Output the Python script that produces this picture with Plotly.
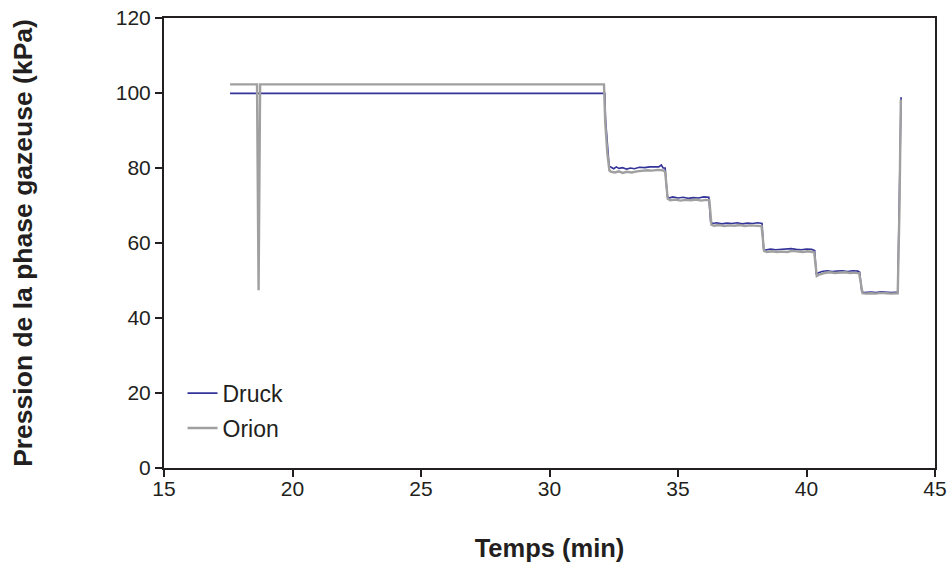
import plotly.graph_objects as go

# ── data ──────────────────────────────────────────────────────
druck_t = [17.57, 32.15, 32.18, 32.25, 32.32, 32.4, 32.5, 32.6, 32.7, 32.85,
           33.0, 33.15, 33.3, 33.5, 33.7, 33.9, 34.1, 34.25, 34.35, 34.42,
           34.5, 34.58, 34.65, 34.8, 35.0, 35.2, 35.4, 35.6, 35.8, 36.0,
           36.2, 36.27, 36.35, 36.5, 36.7, 36.9, 37.1, 37.3, 37.5, 37.7,
           37.9, 38.1, 38.27, 38.33, 38.4, 38.6, 38.8, 39.0, 39.2, 39.4,
           39.6, 39.8, 40.0, 40.2, 40.32, 40.38, 40.45, 40.6, 40.8, 41.0,
           41.2, 41.4, 41.6, 41.8, 42.0, 42.07, 42.15, 42.25, 42.5, 42.7,
           42.9, 43.1, 43.3, 43.55, 43.62, 43.68]
druck_p = [99.9, 99.9, 93.0, 86.0, 80.5, 80.2, 79.8, 80.3, 79.9, 80.1,
           79.7, 80.0, 79.8, 80.2, 80.1, 80.3, 80.4, 80.3, 80.8, 80.0,
           80.0, 72.5, 72.0, 72.3, 72.0, 72.2, 71.9, 72.1, 72.0, 72.3,
           72.2, 65.6, 65.2, 65.4, 65.1, 65.3, 65.2, 65.4, 65.1, 65.3,
           65.2, 65.4, 65.2, 58.4, 58.1, 58.4, 58.2, 58.3, 58.2, 58.5,
           58.3, 58.2, 58.4, 58.3, 58.0, 51.6, 52.0, 52.4, 52.6, 52.4,
           52.5, 52.6, 52.4, 52.6, 52.5, 52.2, 47.0, 46.8, 46.9, 46.8,
           47.0, 46.9, 46.8, 46.9, 70.0, 98.9]

orion_t = [17.57, 18.62, 18.68, 18.74, 32.12, 32.17, 32.25, 32.33, 32.4, 32.55,
           32.7, 32.85, 33.0, 33.2, 33.4, 33.6, 33.8, 34.0, 34.2, 34.4,
           34.5, 34.6, 34.7, 34.9, 35.1, 35.3, 35.5, 35.7, 35.9, 36.1,
           36.22, 36.3, 36.4, 36.6, 36.8, 37.0, 37.2, 37.4, 37.6, 37.8,
           38.0, 38.25, 38.35, 38.45, 38.65, 38.85, 39.05, 39.25, 39.45, 39.65,
           39.85, 40.05, 40.3, 40.4, 40.5, 40.7, 40.9, 41.1, 41.3, 41.5,
           41.7, 41.9, 42.05, 42.18, 42.3, 42.5, 42.7, 42.9, 43.1, 43.3,
           43.55, 43.62, 43.67]
orion_p = [102.3, 102.3, 47.4, 102.3, 102.3, 92.0, 84.0, 79.3, 79.0, 78.8,
           79.1, 78.7, 79.0, 78.8, 79.1, 79.2, 79.4, 79.3, 79.5, 79.4,
           79.0, 71.8, 71.4, 71.6, 71.3, 71.5, 71.4, 71.6, 71.3, 71.5,
           71.4, 64.9, 64.6, 64.8, 64.5, 64.7, 64.6, 64.8, 64.5, 64.7,
           64.6, 64.5, 57.9, 57.6, 57.8, 57.6, 57.7, 57.6, 57.9, 57.7,
           57.6, 57.8, 57.5, 51.2, 51.6, 52.0, 52.2, 52.0, 52.1, 52.2,
           52.0, 52.1, 51.9, 46.6, 46.5, 46.6, 46.5, 46.7, 46.6, 46.5,
           46.6, 70.0, 98.2]

x_ticks = [15, 20, 25, 30, 35, 40, 45]
y_ticks = [0, 20, 40, 60, 80, 100, 120]

FONT = "Liberation Sans, Arial, sans-serif"
INK = "#231F20"

fig = go.Figure()

fig.add_trace(go.Scatter(
    x=druck_t, y=druck_p,
    name="Druck", mode="lines", legendgroup="a",
    line=dict(color="#333399", width=1.6),
))
fig.add_trace(go.Scatter(
    x=orion_t, y=orion_p,
    name="Orion", mode="lines", legendgroup="b",
    line=dict(color="#A0A0A0", width=2.4),
))

axis_common = dict(
    showline=True, linecolor=INK, linewidth=2, mirror=True,
    ticks="outside", ticklen=7, tickwidth=1.5, tickcolor=INK,
    showgrid=False, zeroline=False, automargin=False,
    ticklabeloverflow="allow",
    tickfont=dict(family=FONT, size=21, color=INK),
)

fig.update_layout(
    width=951, height=578,
    paper_bgcolor="white", plot_bgcolor="white",
    margin=dict(l=164, r=16, t=18, b=110),
    font=dict(family=FONT, color=INK),
    showlegend=True,
    legend=dict(
        x=0.024, y=0.214, xanchor="left", yanchor="top",
        bgcolor="rgba(0,0,0,0)",
        font=dict(family=FONT, size=23, color=INK),
        itemwidth=30,
        traceorder="grouped", tracegroupgap=2,
    ),
    xaxis=dict(
        range=[15, 45], tickvals=x_ticks, ticklabelstandoff=-6,
        title=dict(text="<b>Temps (min)</b>", standoff=40,
                   font=dict(family=FONT, size=25.5, color=INK)),
        **axis_common,
    ),
    yaxis=dict(
        range=[0, 120], tickvals=y_ticks,
        title=dict(text="<b>Pression de la phase gazeuse (kPa)</b>", standoff=75,
                   font=dict(family=FONT, size=26.5, color=INK)),
        **axis_common,
    ),
)

# drop the default 8px page margin so the 951x578 figure fills the window exactly
fig.write_html(
    "out.html",
    config={"displayModeBar": False},
    post_script="document.body.style.margin='0';document.body.style.overflow='hidden';",
)
